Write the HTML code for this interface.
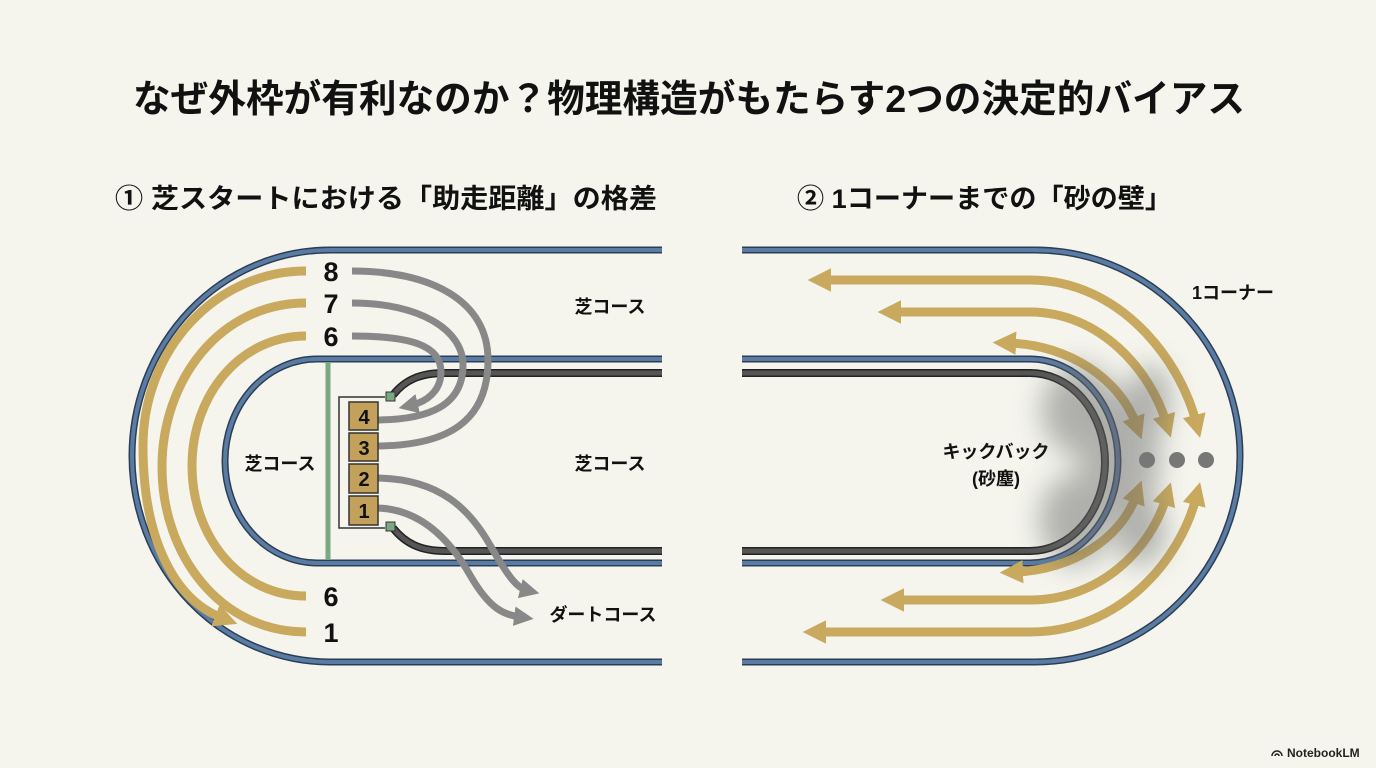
<!DOCTYPE html>
<html><head><meta charset="utf-8"><style>
html,body{margin:0;padding:0;background:#f5f5ee;}
svg{display:block;font-family:"Liberation Sans","Noto Sans CJK JP",sans-serif;}
</style></head><body>
<svg width="1376" height="768" viewBox="0 0 1376 768" xmlns="http://www.w3.org/2000/svg">
<defs>
<marker id="ag" viewBox="0 0 10 10" markerWidth="2.6" markerHeight="3" refX="3" refY="5" orient="auto-start-reverse" markerUnits="strokeWidth"><path d="M0,0 L10,5 L0,10 z" fill="#c8a95e"/></marker>
<marker id="ar" viewBox="0 0 10 10" markerWidth="2.8" markerHeight="3.2" refX="3" refY="5" orient="auto-start-reverse" markerUnits="strokeWidth"><path d="M0,0 L10,5 L0,10 z" fill="#888"/></marker>
<filter id="blur" x="-50%" y="-50%" width="200%" height="200%"><feGaussianBlur stdDeviation="14"/></filter>
</defs>
<rect width="1376" height="768" fill="#f5f5ee"/>
<text x="133" y="112" font-size="38" font-weight="bold" textLength="1112" lengthAdjust="spacingAndGlyphs" fill="#111">なぜ外枠が有利なのか？物理構造がもたらす2つの決定的バイアス</text>
<text x="115" y="208" font-size="27" font-weight="bold" textLength="542" lengthAdjust="spacingAndGlyphs" fill="#111">① 芝スタートにおける「助走距離」の格差</text>
<text x="797" y="208" font-size="27" font-weight="bold" textLength="375" lengthAdjust="spacingAndGlyphs" fill="#111">② 1コーナーまでの「砂の壁」</text>

<!-- LEFT -->
<g fill="none" stroke-linecap="butt">
<path d="M662,250 L330,250 A198,206 0 0 0 330,662 L662,662" stroke="#2c3e55" stroke-width="7"/>
<path d="M662,250 L330,250 A198,206 0 0 0 330,662 L662,662" stroke="#5a7ca3" stroke-width="4"/>
<path d="M662,359 L317,359 A92,102 0 0 0 317,563 L662,563" stroke="#2c3e55" stroke-width="7"/>
<path d="M662,359 L317,359 A92,102 0 0 0 317,563 L662,563" stroke="#5a7ca3" stroke-width="4"/>
<line x1="328" y1="362" x2="328" y2="560" stroke="#7aa883" stroke-width="5"/>
<path d="M393,395 C405,380 420,373 445,373 L662,373" stroke="#222" stroke-width="8"/>
<path d="M393,395 C405,380 420,373 445,373 L662,373" stroke="#555" stroke-width="5"/>
<path d="M393,528 C405,543 420,551 445,551 L662,551" stroke="#222" stroke-width="8"/>
<path d="M393,528 C405,543 420,551 445,551 L662,551" stroke="#555" stroke-width="5"/>
<path d="M306,271 C215,271 143,350 143,446 C143,540 175,600 222,618" stroke="#c8a95e" stroke-width="9" marker-end="url(#ag)"/>
<path d="M306,303 C220,303 162,380 162,467 C162,555 220,632 306,632" stroke="#c8a95e" stroke-width="9"/>
<path d="M306,336 C240,336 192,395 192,466 C192,537 240,596 306,596" stroke="#c8a95e" stroke-width="9"/>
<path d="M352,271 C430,271 488,300 488,360 C488,420 450,446 375,446" stroke="#888" stroke-width="7"/>
<path d="M352,303 C420,303 463,330 463,365 C463,405 430,420 375,420" stroke="#888" stroke-width="7"/>
<path d="M352,336 C410,336 441,345 441,372 C441,392 425,402 412,405" stroke="#888" stroke-width="7" marker-end="url(#ar)"/>
<path d="M375,478 C440,478 470,510 490,545 C510,580 518,588 526,590" stroke="#888" stroke-width="7" marker-end="url(#ar)"/>
<path d="M375,508 C420,508 450,540 470,575 C490,610 505,615 520,617" stroke="#888" stroke-width="7" marker-end="url(#ar)"/>
<path d="M385,397 L339,397 L339,528 L385,528" stroke="#333" stroke-width="1.5"/>
</g>
<rect x="386" y="392" width="9" height="9" fill="#7aa883" stroke="#333"/>
<rect x="386" y="522" width="9" height="9" fill="#7aa883" stroke="#333"/>
<g stroke="#333" stroke-width="1.5" fill="#c4a15a">
<rect x="349" y="402" width="29" height="28"/><rect x="349" y="433" width="29" height="28"/>
<rect x="349" y="464" width="29" height="29"/><rect x="349" y="496" width="29" height="29"/>
</g>
<g font-size="20" font-weight="bold" text-anchor="middle" fill="#111">
<text x="364" y="424">4</text><text x="364" y="455">3</text><text x="364" y="486">2</text><text x="364" y="518">1</text>
</g>
<g font-size="27" font-weight="bold" text-anchor="middle" fill="#111">
<text x="331" y="281">8</text><text x="331" y="313">7</text><text x="331" y="346">6</text><text x="331" y="606">6</text><text x="331" y="642">1</text>
</g>
<g font-size="18" font-weight="bold" text-anchor="middle" fill="#111">
<text x="610" y="313">芝コース</text><text x="610" y="470">芝コース</text><text x="280" y="470">芝コース</text><text x="603" y="621">ダートコース</text>
<text x="996" y="458">キックバック</text><text x="996" y="485">(砂塵)</text><text x="1233" y="299">1コーナー</text>
</g>

<!-- RIGHT -->
<g fill="none">
<path d="M742,250 L1035,250 A205,206 0 0 1 1035,662 L742,662" stroke="#2c3e55" stroke-width="7"/>
<path d="M742,250 L1035,250 A205,206 0 0 1 1035,662 L742,662" stroke="#5a7ca3" stroke-width="4"/>
<path d="M742,359 L1030,359 A88,102 0 0 1 1030,563 L742,563" stroke="#2c3e55" stroke-width="7"/>
<path d="M742,359 L1030,359 A88,102 0 0 1 1030,563 L742,563" stroke="#5a7ca3" stroke-width="4"/>
<path d="M742,373 L1030,373 A75,89 0 0 1 1030,551 L742,551" stroke="#222" stroke-width="8"/>
<path d="M742,373 L1030,373 A75,89 0 0 1 1030,551 L742,551" stroke="#555" stroke-width="5"/>
<g stroke="#c8a95e" stroke-width="9">
<path d="M824,280 L1030,280 C1120,280 1180,360 1196,422" marker-start="url(#ag)" marker-end="url(#ag)"/>
<path d="M894,312 L1030,312 C1100,312 1150,370 1166,422" marker-start="url(#ag)" marker-end="url(#ag)"/>
<path d="M1009,343 C1070,345 1120,380 1136,424" marker-start="url(#ag)" marker-end="url(#ag)"/>
<path d="M819,632 L1030,632 C1120,632 1180,560 1196,498" marker-start="url(#ag)" marker-end="url(#ag)"/>
<path d="M897,600 L1030,600 C1100,600 1150,550 1166,498" marker-start="url(#ag)" marker-end="url(#ag)"/>
<path d="M1016,572 C1070,570 1120,540 1136,496" marker-start="url(#ag)" marker-end="url(#ag)"/>
</g>
</g>
<g filter="url(#blur)" fill="#6a6a6a" opacity="0.5">
<ellipse cx="1080" cy="410" rx="38" ry="45"/>
<ellipse cx="1075" cy="520" rx="35" ry="45"/>
<ellipse cx="1120" cy="455" rx="40" ry="65"/>
<ellipse cx="1150" cy="400" rx="20" ry="35"/>
<ellipse cx="1140" cy="530" rx="25" ry="35"/>
</g>
<g fill="#777"><circle cx="1147" cy="460" r="8"/><circle cx="1177" cy="460" r="8"/><circle cx="1206" cy="460" r="8"/></g>

<text x="1287" y="757" font-size="12" font-weight="bold" fill="#222">NotebookLM</text>
<path d="M1272,756 a5,5 0 0 1 10,0 M1275,756 a2,2 0 0 1 4,0" stroke="#222" stroke-width="1.5" fill="none"/>
</svg>
</body></html>
